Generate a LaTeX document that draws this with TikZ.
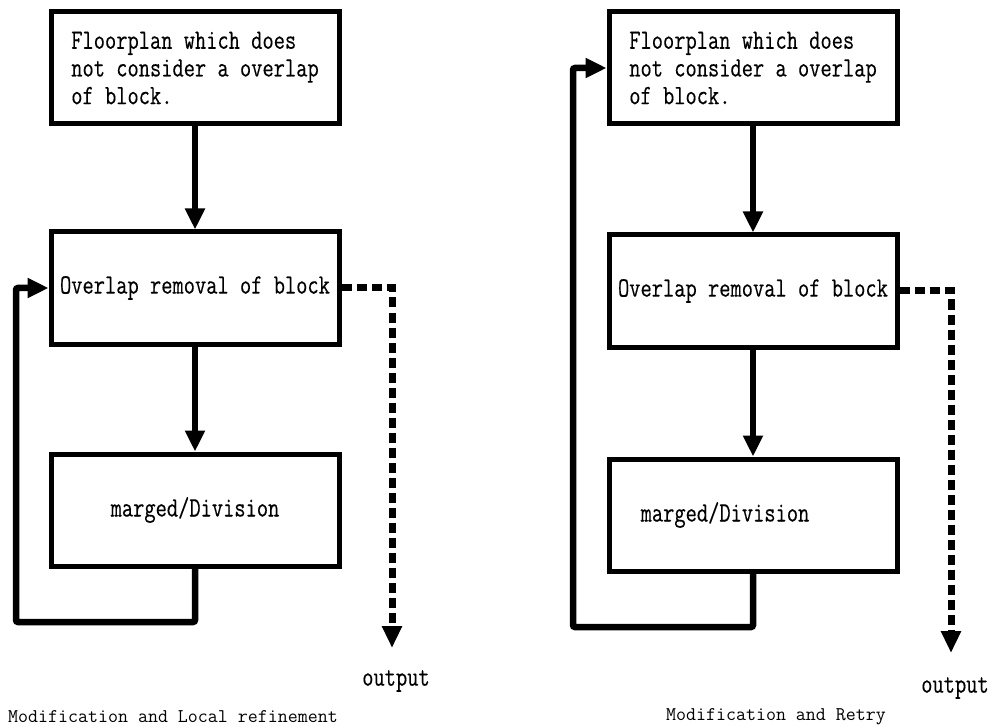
\documentclass[tikz,border=0pt]{standalone}
\usepackage{fontspec}
\usetikzlibrary{arrows.meta}
\setmonofont[FakeStretch=0.78,FakeBold=0.3]{Latin Modern Mono}
\newfontfamily\capfont{Latin Modern Mono}
\begin{document}
\begin{tikzpicture}[x=1pt,y=-1pt,
  box/.style={draw,line width=5pt,rectangle,minimum width=288pt,minimum height=112pt,inner sep=0pt,
    font=\ttfamily\fontsize{28}{27.7}\selectfont,align=left},
  arr/.style={line width=6.5pt,-{Triangle[length=21pt,width=19pt]}},
  loopline/.style={line width=6.5pt,rounded corners=2pt,-{Triangle[length=21pt,width=19pt]}},
  dashline/.style={line width=7pt,dash pattern=on 10pt off 5pt,-{Triangle[length=22pt,width=19pt]}},
  outtext/.style={font=\ttfamily\fontsize{28}{27.7}\selectfont,inner sep=0pt},
  captext/.style={font=\capfont\fontsize{19.4}{21}\selectfont,inner sep=0pt}]
\useasboundingbox (0,0) rectangle (993,727);
% left diagram
\node[box] (l1) at (195,68) {Floorplan which does\\not consider a overlap\\of block.};
\node[box] (l2) at (195,288) {Overlap removal of block};
\node[box] (l3) at (195,510) {marged/Division};
\coordinate (lc) at (16,622);
\coordinate (lo) at (392,648);
\draw[arr] (l1.south) -- (l2.north);
\draw[arr] (l2.south) -- (l3.north);
\draw[loopline] (l3.south) |- (lc) |- (l2.west);
\draw[dashline] (l2.east) -| (lo);
\node[outtext] (lout) at (396,681) {output};
\node[captext] (lcap) at (173,717) {Modification and Local refinement};
% right diagram
\node[box] (r1) at (753,68) {Floorplan which does\\not consider a overlap\\of block.};
\node[box] (r2) at (753,291) {Overlap removal of block};
\node[box] (r3) at (753,515) {\hspace*{-56pt}marged/Division};
\coordinate (rc) at (573,627);
\coordinate (ro) at (951,653);
\draw[arr] (r1.south) -- (r2.north);
\draw[arr] (r2.south) -- (r3.north);
\draw[loopline] (r3.south) |- (rc) |- (r1.west);
\draw[dashline] (r2.east) -| (ro);
\node[outtext] (rout) at (955,688) {output};
\node[captext] (rcap) at (776,717) {Modification and Retry};
\end{tikzpicture}
\end{document}
